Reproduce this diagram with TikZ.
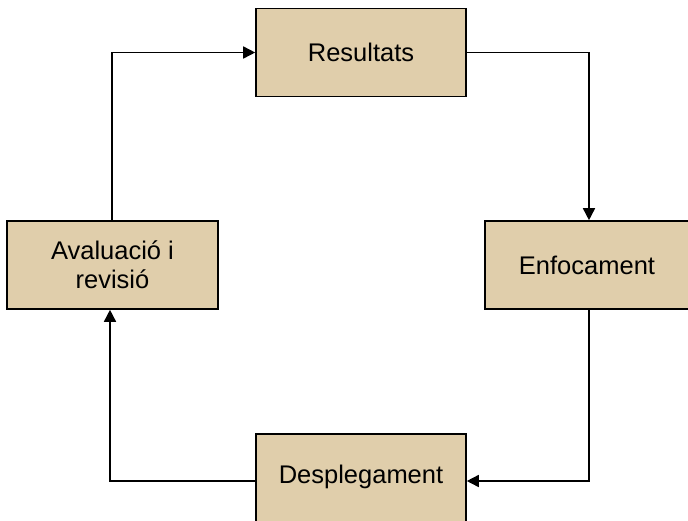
\documentclass[tikz,border=0pt]{standalone}
\usepackage{fontspec}
\setmainfont{Liberation Sans}
\usetikzlibrary{arrows.meta}
\definecolor{boxfill}{RGB}{224,206,171}
\tikzset{
  stage/.style={draw=black, line width=1.6pt, fill=boxfill, minimum width=210pt,
    minimum height=88pt, inner sep=0pt, align=center,
    font=\fontsize{25.5}{29}\selectfont},
  flow/.style={draw=black, line width=1.6pt,
    -{Triangle[length=12pt,width=12pt]}},
}
\begin{document}
\begin{tikzpicture}[x=1pt,y=-1pt]
  \useasboundingbox (0,0) rectangle (688,520);
  \node[stage] (res) at (361,52.5) {Resultats};
  \node[stage, minimum width=204pt] (enf) at (587,265) {Enfocament};
  \node[stage, minimum width=211pt] (ava) at (112.5,265) {Avaluació i\\revisió};
  \node[stage, minimum height=96pt] (des) at (361,482) {};
  \node[font=\fontsize{25.5}{29}\selectfont] (deslab) at (361,477) {Desplegament};
  \coordinate (c1) at (112,52.5);
  \coordinate (c2) at (589,52.5);
  \coordinate (c3) at (589,481);
  \coordinate (c4) at (110,481);
  \draw[flow] (ava.north -| c1) -- (c1) -- (res.west);
  \draw[flow] (res.east) -- (c2) -- (enf.north -| c2);
  \draw[flow] (enf.south -| c3) -- (c3) -- (c3 -| des.east);
  \draw[flow] (c4 -| des.west) -- (c4) -- (ava.south -| c4);
\end{tikzpicture}
\end{document}
